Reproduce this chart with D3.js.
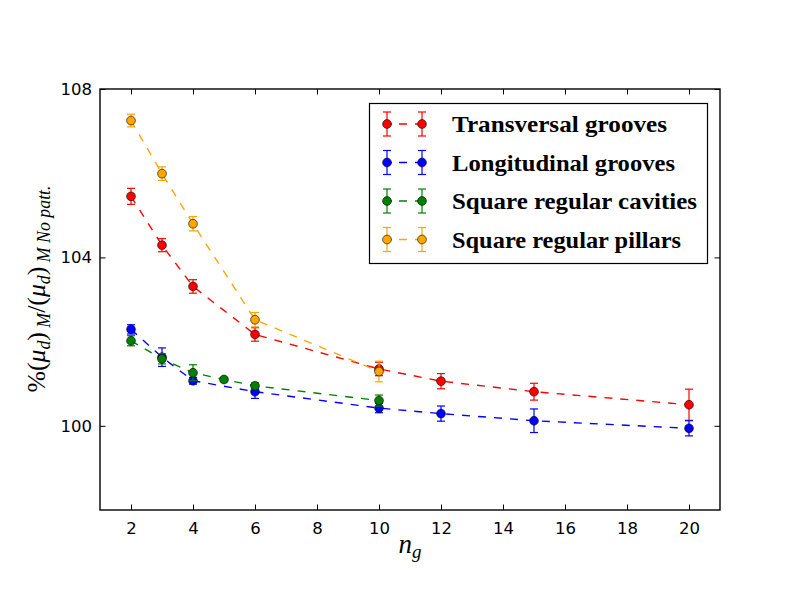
<!DOCTYPE html>
<html>
<head>
<meta charset="utf-8">
<script src="https://cdn.jsdelivr.net/npm/d3@7"></script>
<style>
  body { margin: 0; background: #fff; }
  svg { display: block; }
</style>
</head>
<body>
<div id="chart"></div>
<script>
// values
const seriesNames = ["Transversal grooves", "Longitudinal grooves", "Square regular cavities", "Square regular pillars"];
const seriesColors = ["#ff0000", "#0000ff", "#008000", "#ffa500"];

const ngTransversal = [2, 3, 4, 6, 10, 12, 15, 20];
const transversal = [105.45, 104.29, 103.31, 102.17, 101.35, 101.06, 100.81, 100.50];
const errTransversal = [0.19, 0.155, 0.16, 0.16, 0.16, 0.18, 0.2, 0.37];

const ngLongitudinal = [2, 3, 4, 6, 10, 12, 15, 20];
const longitudinal = [102.29, 101.63, 101.07, 100.81, 100.42, 100.29, 100.12, 99.94];
const errLongitudinal = [0.11, 0.22, 0.08, 0.16, 0.11, 0.18, 0.28, 0.18];

const ngCavities = [2, 3, 4, 5, 6, 10];
const cavities = [102.02, 101.59, 101.26, 101.10, 100.95, 100.60];
const errCavities = [0.12, 0.12, 0.19, 0.05, 0.07, 0.13];

const ngPillars = [2, 3, 4, 6, 10];
const pillars = [107.25, 105.99, 104.80, 102.52, 101.29];
const errPillars = [0.15, 0.16, 0.17, 0.17, 0.245];

const xTicks = [2, 4, 6, 8, 10, 12, 14, 16, 18, 20];
const yTicks = [100, 104, 108];

const series = [
    { x: ngTransversal, y: transversal, e: errTransversal },
    { x: ngLongitudinal, y: longitudinal, e: errLongitudinal },
    { x: ngCavities, y: cavities, e: errCavities },
    { x: ngPillars, y: pillars, e: errPillars }
].map((s, i) => ({
    name: seriesNames[i],
    color: seriesColors[i],
    points: s.x.map((v, j) => ({ ng: v, val: s.y[j], err: s.e[j] }))
}));

let width = 800, height = 600;
let margin = { left: 100, right: 80, top: 89, bottom: 90 };

let svg = d3.select("#chart")
    .append("svg")
    .attr("width", width)
    .attr("height", height);

let x = d3.scaleLinear().domain([1, 21]).range([margin.left, width - margin.right]);
let y = d3.scaleLinear().domain([98, 108]).range([height - margin.bottom, margin.top]);

let tickFont = "'DejaVu Sans', sans-serif";

// bottom and top axes (ticks point inward)
svg.append("g")
    .attr("transform", `translate(0,${y(98)})`)
    .call(d3.axisBottom(x).tickValues(xTicks).tickSizeInner(-5.5).tickSizeOuter(0).tickPadding(12));
svg.append("g")
    .attr("transform", `translate(0,${y(108)})`)
    .call(d3.axisTop(x).tickValues(xTicks).tickSizeInner(-5.5).tickSizeOuter(0).tickFormat(""));

svg.append("g")
    .attr("transform", `translate(${x(1)},0)`)
    .call(d3.axisLeft(y).tickValues(yTicks).tickSizeInner(-5.5).tickSizeOuter(0).tickPadding(8));
svg.append("g")
    .attr("transform", `translate(${x(21)},0)`)
    .call(d3.axisRight(y).tickValues(yTicks).tickSizeInner(-5.5).tickSizeOuter(0).tickFormat(""));

svg.selectAll(".domain").remove();
svg.selectAll(".tick line").attr("stroke", "#000").attr("stroke-width", 1);
svg.selectAll(".tick text")
    .attr("font-family", tickFont)
    .attr("font-size", 16.5)
    .attr("fill", "#000");

// frame
svg.append("rect")
    .attr("x", x(1))
    .attr("y", y(108))
    .attr("width", x(21) - x(1))
    .attr("height", y(98) - y(108))
    .attr("fill", "none")
    .attr("stroke", "#000")
    .attr("stroke-width", 1.4);

let plot = svg.append("g");
let line = d3.line().x(d => x(d.ng)).y(d => y(d.val));
let cap = 4;

series.forEach(s => {
    let g = plot.append("g");
    g.append("path")
        .datum(s.points)
        .attr("d", line)
        .attr("fill", "none")
        .attr("stroke", s.color)
        .attr("stroke-width", 1.4)
        .attr("stroke-dasharray", "8,8");

    let eb = g.selectAll(".eb").data(s.points).enter().append("g")
        .attr("stroke", s.color)
        .attr("stroke-width", 1.2);
    eb.append("line")
        .attr("x1", d => x(d.ng)).attr("x2", d => x(d.ng))
        .attr("y1", d => y(d.val - d.err)).attr("y2", d => y(d.val + d.err));
    eb.append("line")
        .attr("x1", d => x(d.ng) - cap).attr("x2", d => x(d.ng) + cap)
        .attr("y1", d => y(d.val - d.err)).attr("y2", d => y(d.val - d.err));
    eb.append("line")
        .attr("x1", d => x(d.ng) - cap).attr("x2", d => x(d.ng) + cap)
        .attr("y1", d => y(d.val + d.err)).attr("y2", d => y(d.val + d.err));

    g.selectAll("circle").data(s.points).enter().append("circle")
        .attr("cx", d => x(d.ng))
        .attr("cy", d => y(d.val))
        .attr("r", 4.4)
        .attr("fill", s.color)
        .attr("stroke", "#000")
        .attr("stroke-width", 0.6);
});

// legend
let legend = svg.append("g");
legend.append("rect")
    .attr("x", 369.5).attr("y", 103.5)
    .attr("width", 338).attr("height", 160)
    .attr("fill", "#fff")
    .attr("stroke", "#000")
    .attr("stroke-width", 1.2);

let legendWidths = [215, 223, 245, 229];
series.forEach((s, i) => {
    let cy = 124 + i * 38.5;
    let row = legend.append("g").attr("transform", `translate(0,${cy})`);
    row.append("line")
        .attr("x1", 387).attr("x2", 422)
        .attr("y1", 0).attr("y2", 0)
        .attr("stroke", s.color)
        .attr("stroke-width", 1.4)
        .attr("stroke-dasharray", "5,7,8,8");
    [387, 422].forEach(mx => {
        row.append("line").attr("x1", mx).attr("x2", mx).attr("y1", -12).attr("y2", 12)
            .attr("stroke", s.color).attr("stroke-width", 1.2);
        row.append("line").attr("x1", mx - cap).attr("x2", mx + cap).attr("y1", -12).attr("y2", -12)
            .attr("stroke", s.color).attr("stroke-width", 1.2);
        row.append("line").attr("x1", mx - cap).attr("x2", mx + cap).attr("y1", 12).attr("y2", 12)
            .attr("stroke", s.color).attr("stroke-width", 1.2);
        row.append("circle").attr("cx", mx).attr("cy", 0).attr("r", 4.4)
            .attr("fill", s.color).attr("stroke", "#000").attr("stroke-width", 0.6);
    });
    row.append("text")
        .attr("x", 452)
        .attr("y", 8)
        .attr("font-family", "'Liberation Serif', serif")
        .attr("font-weight", "bold")
        .attr("font-size", 24)
        .attr("textLength", legendWidths[i])
        .attr("lengthAdjust", "spacingAndGlyphs")
        .text(s.name);
});

// axis labels
let mathFont = "'Liberation Serif', serif";
svg.append("text")
    .attr("x", x(11))
    .attr("y", 553)
    .attr("text-anchor", "middle")
    .attr("font-family", mathFont)
    .attr("font-style", "italic")
    .attr("font-size", 27)
    .call(t => {
        t.append("tspan").text("n");
        t.append("tspan").attr("font-size", 19).attr("dy", 5).text("g");
    });

let yl = svg.append("text")
    .attr("transform", "translate(45,289) rotate(-90)")
    .attr("text-anchor", "middle")
    .attr("font-family", mathFont)
    .attr("font-size", 26)
    .attr("textLength", 207)
    .attr("lengthAdjust", "spacingAndGlyphs");
yl.append("tspan").attr("font-style", "normal").text("%(");
yl.append("tspan").attr("font-style", "italic").text("μ");
yl.append("tspan").attr("font-style", "italic").attr("font-size", 18).attr("dy", 5).text("d");
yl.append("tspan").attr("dy", -5).text(")");
yl.append("tspan").attr("font-style", "italic").attr("font-size", 18).attr("dy", 5).text(" M");
yl.append("tspan").attr("dy", -5).text("/(");
yl.append("tspan").attr("font-style", "italic").text("μ");
yl.append("tspan").attr("font-style", "italic").attr("font-size", 18).attr("dy", 5).text("d");
yl.append("tspan").attr("dy", -5).text(")");
yl.append("tspan").attr("font-style", "italic").attr("font-size", 18).attr("dy", 5).text(" M No patt.");
</script>
</body>
</html>
